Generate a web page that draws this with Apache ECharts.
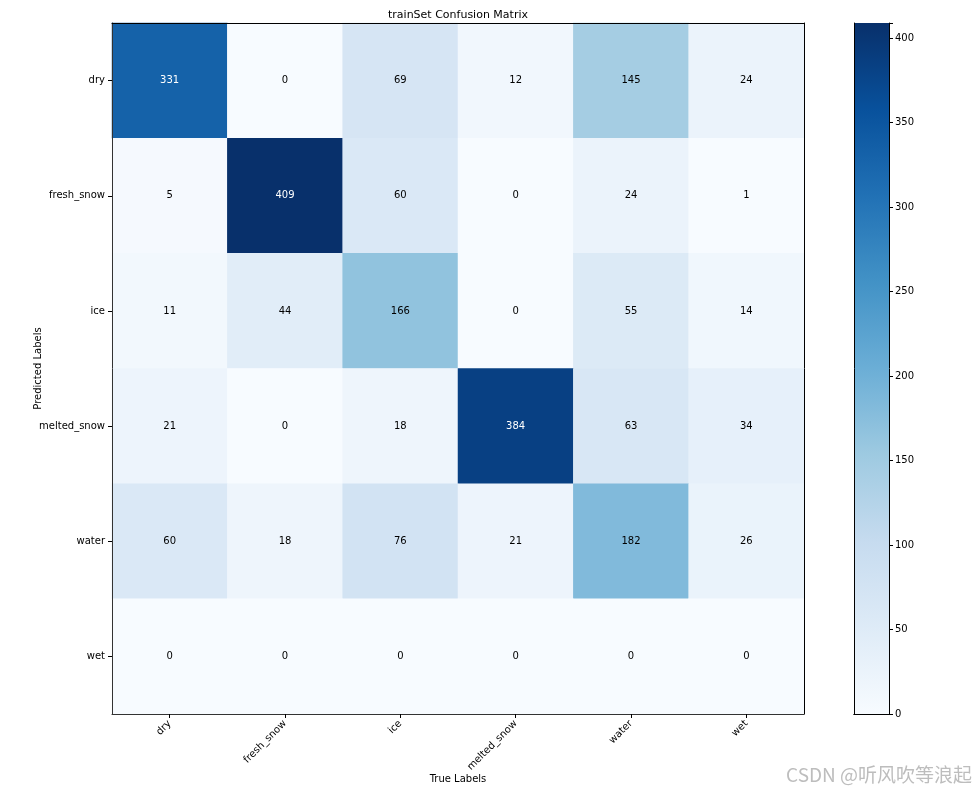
<!DOCTYPE html>
<html>
<head>
<meta charset="utf-8">
<script src="https://cdn.jsdelivr.net/npm/echarts@6/dist/echarts.min.js"></script>
<style>html,body{margin:0;padding:0;background:#fff;}#c{width:976px;height:791px;}</style>
</head>
<body>
<div id="c"></div>
<script>
const labels = ['dry', 'fresh_snow', 'ice', 'melted_snow', 'water', 'wet'];
const matrix = [
  [331, 0, 69, 12, 145, 24],
  [5, 409, 60, 0, 24, 1],
  [11, 44, 166, 0, 55, 14],
  [21, 0, 18, 384, 63, 34],
  [60, 18, 76, 21, 182, 26],
  [0, 0, 0, 0, 0, 0]
];
const colorbarTicks = [0, 50, 100, 150, 200, 250, 300, 350, 400];
const vMin = 0, vMax = 409;
const blues = ['#f7fbff', '#deebf7', '#c6dbef', '#9ecae1', '#6baed6', '#4292c6', '#2171b5', '#08519c', '#08306b'];

const data = [];
matrix.forEach((row, r) => row.forEach((v, c) => data.push([c, r, v])));
const thresh = vMax / 2;
const FONT = 'DejaVu Sans';

const chart = echarts.init(document.getElementById('c'));
chart.setOption({
  animation: false,
  textStyle: { fontFamily: FONT },
  title: {
    text: 'trainSet Confusion Matrix',
    left: 453, top: 5, textAlign: 'center',
    textStyle: { fontFamily: FONT, fontSize: 11, fontWeight: 'normal', color: '#000' }
  },
  grid: [
    { left: 112, right: 172, top: 23, bottom: 77, outerBoundsMode: 'none', containLabel: false },
    { left: 854, width: 35, top: 23, bottom: 77, outerBoundsMode: 'none', containLabel: false }
  ],
  xAxis: [
    {
      type: 'category', data: labels, gridIndex: 0, z: 5,
      name: 'True Labels', nameLocation: 'middle', nameGap: 60, nameMoveOverlap: false,
      nameTextStyle: { fontFamily: FONT, fontSize: 10, color: '#000' },
      axisLine: { show: true, lineStyle: { color: '#333', width: 1 } },
      axisTick: { show: true, alignWithLabel: true, length: 4, lineStyle: { color: '#000' } },
      axisLabel: { rotate: 45, fontFamily: FONT, fontSize: 10, color: '#000', margin: 8 },
      splitLine: { show: false }
    },
    {
      type: 'category', data: labels, gridIndex: 0, position: 'top', z: 5,
      axisLine: { show: true, lineStyle: { color: '#000', width: 1 } },
      axisTick: { show: false }, axisLabel: { show: false }
    },
    {
      type: 'category', data: ['cb'], gridIndex: 1, z: 5,
      axisLine: { show: true, lineStyle: { color: '#000' } },
      axisTick: { show: false }, axisLabel: { show: false }
    },
    {
      type: 'category', data: ['cb'], gridIndex: 1, position: 'top', z: 5,
      axisLine: { show: true, lineStyle: { color: '#000' } },
      axisTick: { show: false }, axisLabel: { show: false }
    }
  ],
  yAxis: [
    {
      type: 'category', data: labels, inverse: true, gridIndex: 0, z: 5,
      name: 'Predicted Labels', nameLocation: 'middle', nameGap: 69, nameRotate: 90, nameMoveOverlap: false,
      nameTextStyle: { fontFamily: FONT, fontSize: 10, color: '#000' },
      axisLine: { show: true, lineStyle: { color: '#333', width: 1 } },
      axisTick: { show: true, alignWithLabel: true, length: 4, lineStyle: { color: '#000' } },
      axisLabel: { fontFamily: FONT, fontSize: 10, color: '#000', margin: 7 }
    },
    {
      type: 'category', data: labels, inverse: true, gridIndex: 0, position: 'right', z: 5,
      axisLine: { show: true, lineStyle: { color: '#000', width: 1 } },
      axisTick: { show: false }, axisLabel: { show: false }
    },
    {
      type: 'value', gridIndex: 1, position: 'right', min: vMin, max: vMax, interval: 50, z: 5,
      axisLine: { show: true, lineStyle: { color: '#000' } },
      axisTick: { show: true, length: 4, lineStyle: { color: '#000' } },
      axisLabel: { fontFamily: FONT, fontSize: 10, color: '#000', margin: 6,
        formatter: v => colorbarTicks.indexOf(v) >= 0 ? String(v) : '' },
      splitLine: { show: false }
    },
    {
      type: 'value', gridIndex: 1, position: 'left', min: vMin, max: vMax, z: 5,
      axisLine: { show: true, lineStyle: { color: '#000' } },
      axisTick: { show: false }, axisLabel: { show: false }, splitLine: { show: false }
    }
  ],
  visualMap: {
    show: false, min: vMin, max: vMax, seriesIndex: 0, dimension: 2,
    inRange: { color: blues }
  },
  series: [
    {
      type: 'heatmap', xAxisIndex: 0, yAxisIndex: 0,
      data: data.map(d => ({ value: d, label: { color: d[2] > thresh ? '#fff' : '#000' } })),
      label: {
        show: true, fontFamily: FONT, fontSize: 10,
        formatter: p => String(p.value[2])
      },
      itemStyle: { borderWidth: 0 }
    },
    {
      type: 'bar', xAxisIndex: 2, yAxisIndex: 2, data: [vMax], barWidth: '100%',
      silent: true,
      itemStyle: {
        color: {
          type: 'linear', x: 0, y: 1, x2: 0, y2: 0,
          colorStops: blues.map((c, i) => ({ offset: i / (blues.length - 1), color: c }))
        }
      }
    }
  ],
  graphic: [
    {
      type: 'text', right: 4, bottom: 7,
      style: { text: 'CSDN @听风吹等浪起', fill: '#bdbdbd', font: '19px "Noto Sans CJK SC"' }
    }
  ]
});
</script>
</body>
</html>
